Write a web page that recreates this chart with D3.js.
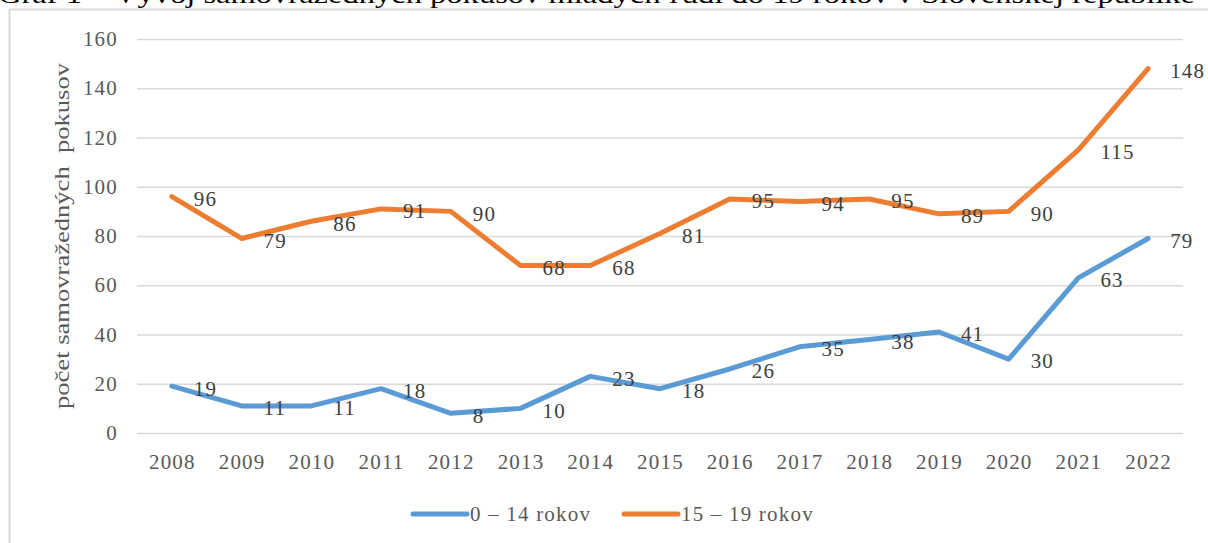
<!DOCTYPE html>
<html>
<head>
<meta charset="utf-8">
<script src="https://cdn.jsdelivr.net/npm/d3@7"></script>
<style>
  body { margin: 0; background: #fff; }
  svg text { font-family: "Liberation Serif", "Times New Roman", serif; }
</style>
</head>
<body>
<div id="chart"></div>
<script>
// data
const years = ["2008","2009","2010","2011","2012","2013","2014","2015","2016","2017","2018","2019","2020","2021","2022"];
const kids = [19, 11, 11, 18, 8, 10, 23, 18, 26, 35, 38, 41, 30, 63, 79];
const teens = [96, 79, 86, 91, 90, 68, 68, 81, 95, 94, 95, 89, 90, 115, 148];
const yTicks = [0, 20, 40, 60, 80, 100, 120, 140, 160];
const seriesNames = ["0 \u2013 14 rokov", "15 \u2013 19 rokov"];
const seriesColors = ["#5B9BD5", "#ED7D31"];

const width = 1208, height = 543;
const margin = {top: 39, right: 25, bottom: 110, left: 137};
const fs = "21px", ls = "1.2px";

let svg = d3.select("#chart")
    .append("svg")
    .attr("width", width)
    .attr("height", height);

// cut-off caption above the frame
svg.append("text")
    .attr("x", -2)
    .attr("y", 3)
    .attr("textLength", 1197)
    .attr("lengthAdjust", "spacingAndGlyphs")
    .style("font-size", "25px")
    .style("fill", "#000")
    .text("Graf 1 \u2013 Vývoj samovražedných pokusov mladých ľudí do 19 rokov v Slovenskej republike");

// frame (top + left visible)
svg.append("path")
    .attr("d", `M9.5,${height} V9.5 H${width}`)
    .attr("fill", "none")
    .attr("stroke", "#d9d9d9")
    .attr("stroke-width", 2);

let x = d3.scalePoint()
    .domain(years)
    .range([margin.left, width - margin.right])
    .padding(0.5);

let y = d3.scaleLinear()
    .domain([0, 160])
    .range([433, margin.top]);

// gridlines
let yAxis = svg.append("g")
    .attr("transform", `translate(${margin.left},0)`)
    .call(d3.axisLeft(y).tickValues(yTicks).tickSize(-(width - margin.right - margin.left)).tickPadding(19));
yAxis.attr("font-family", null);
yAxis.select(".domain").remove();
yAxis.selectAll(".tick line").attr("stroke", "#d9d9d9").attr("stroke-width", 1.5);
yAxis.selectAll(".tick text")
    .attr("fill", "#595959")
    .style("font-size", fs)
    .style("letter-spacing", ls);

let xAxis = svg.append("g")
    .attr("transform", `translate(0,${y(0)})`)
    .call(d3.axisBottom(x).tickSize(0).tickPadding(21));
xAxis.attr("font-family", null);
xAxis.select(".domain").remove();
xAxis.selectAll(".tick text")
    .attr("fill", "#595959")
    .style("font-size", fs)
    .style("letter-spacing", ls);

// y axis title
svg.append("text")
    .attr("transform", `translate(69, ${(y(0) + y(160)) / 2}) rotate(-90)`)
    .style("text-anchor", "middle")
    .style("white-space", "pre")
    .attr("textLength", 346)
    .attr("lengthAdjust", "spacingAndGlyphs")
    .style("font-size", "22px")
    .style("fill", "#595959")
    .text("počet samovražedných  pokusov");

let line = d3.line()
    .x((d, i) => x(years[i]))
    .y(d => y(d));

[kids, teens].forEach(function(vals, k) {
    svg.append("path")
        .datum(vals)
        .attr("fill", "none")
        .attr("stroke", seriesColors[k])
        .attr("stroke-width", 5)
        .attr("stroke-linejoin", "round")
        .attr("stroke-linecap", "round")
        .attr("d", line);

    svg.append("g").selectAll("text")
        .data(vals)
        .enter()
        .append("text")
        .attr("x", (d, i) => x(years[i]) + 22)
        .attr("y", d => y(d) + 2)
        .attr("dy", "0.35em")
        .style("font-size", fs)
        .style("letter-spacing", ls)
        .style("fill", "#404040")
        .text(d => d);
});

// legend
let legendX = [413, 624];
seriesNames.forEach(function(name, k) {
    let g = svg.append("g").attr("transform", `translate(${legendX[k]}, 514)`);
    g.append("line")
        .attr("x1", 0).attr("x2", 54)
        .attr("stroke", seriesColors[k])
        .attr("stroke-width", 5)
        .attr("stroke-linecap", "round");
    g.append("text")
        .attr("x", 57)
        .attr("dy", "0.35em")
        .style("font-size", fs)
        .style("letter-spacing", ls)
        .style("fill", "#595959")
        .text(name);
});
</script>
</body>
</html>
